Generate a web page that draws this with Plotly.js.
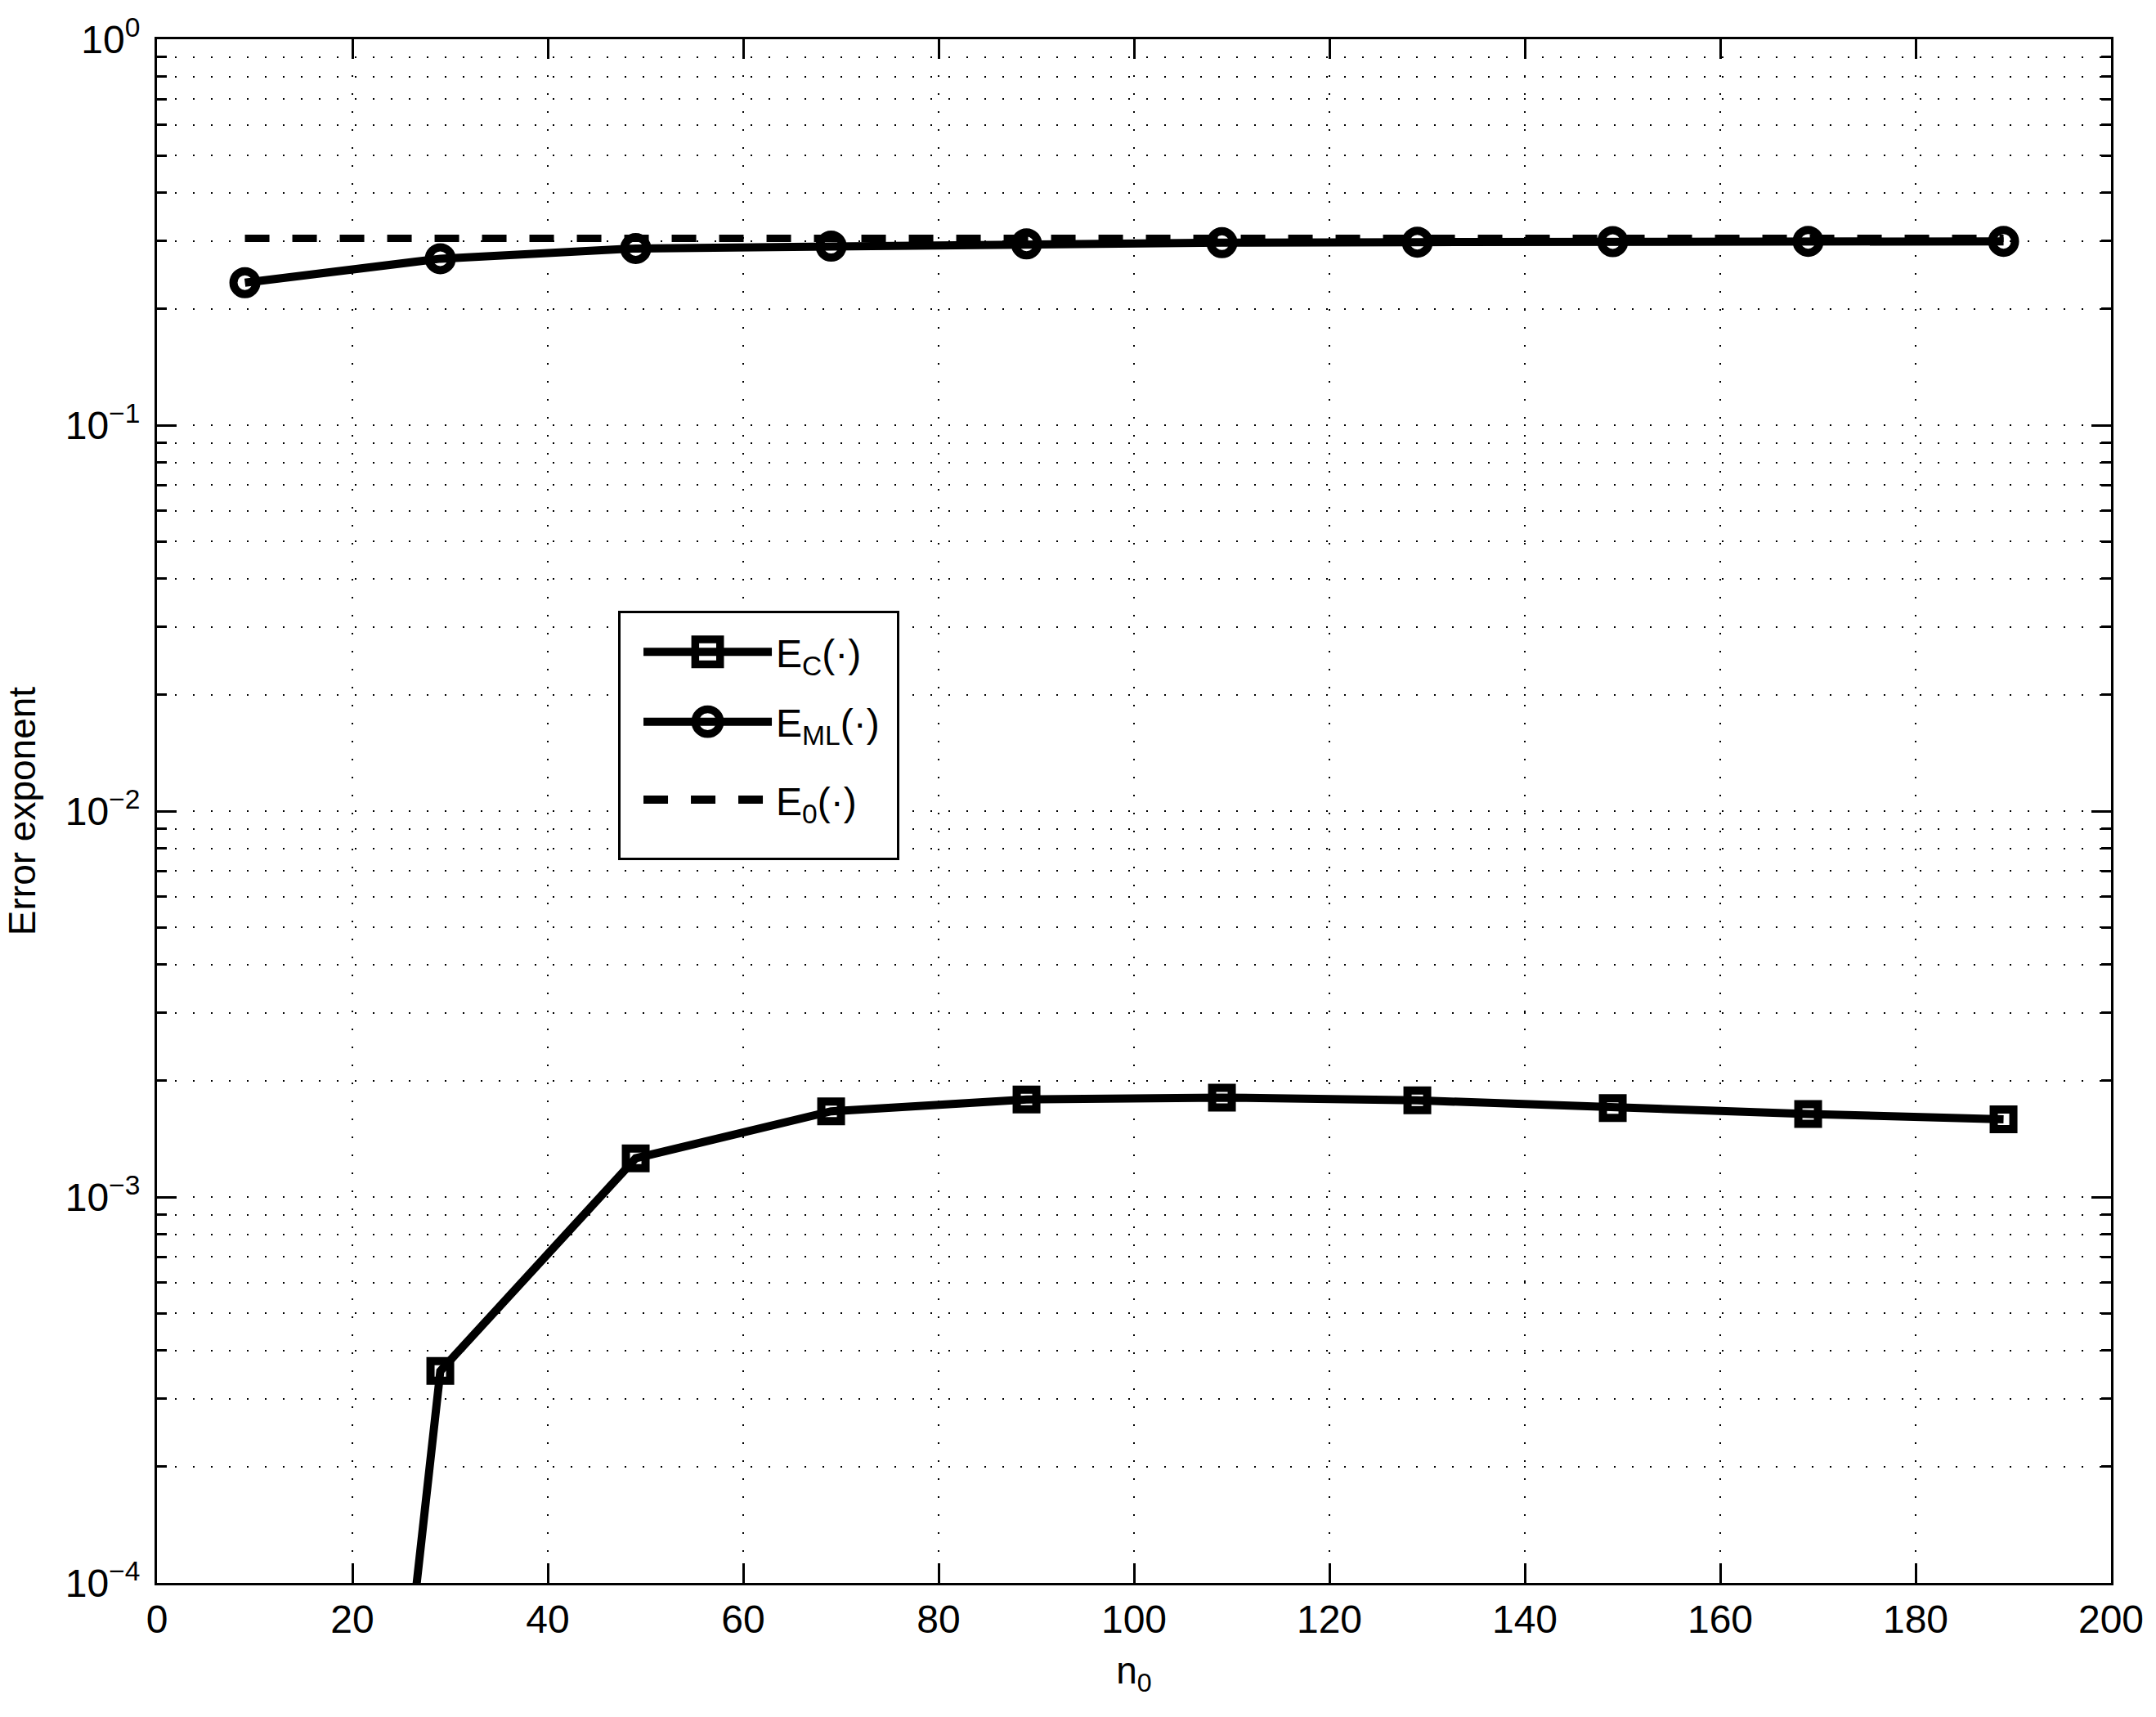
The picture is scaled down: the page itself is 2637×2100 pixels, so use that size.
<!DOCTYPE html>
<html>
<head>
<meta charset="utf-8">
<script src="https://cdn.plot.ly/plotly-3.0.1.min.js"></script>
<style>html, body { margin: 0; padding: 0; background: #fff; }</style>
</head>
<body>
<div id="plot" style="width:2637px;height:2100px"></div>
<script>
'use strict'

// values

const n0 = [9, 29, 49, 69, 89, 109, 129, 149, 169, 189]
const err_c = [1.0e-8, 3.54e-4, 1.26e-3, 1.667e-3, 1.79e-3, 1.81e-3, 1.78e-3, 1.70e-3, 1.64e-3, 1.59e-3]
const err_ml = [0.234, 0.270, 0.287, 0.291, 0.295, 0.297, 0.298, 0.299, 0.2995, 0.2995]
const err_0 = [0.305, 0.305, 0.305, 0.305, 0.305, 0.305, 0.305, 0.305, 0.305, 0.305]

const names = ['E<sub>C</sub>(·)', 'E<sub>ML</sub>(·)', 'E<sub>0</sub>(·)']
const x_ticks = [0, 20, 40, 60, 80, 100, 120, 140, 160, 180, 200]
const y_ticks = [1e-4, 1e-3, 1e-2, 1e-1, 1]
const y_labels = ['10<sup>−4</sup>', '10<sup>−3</sup>', '10<sup>−2</sup>', '10<sup>−1</sup>', '10<sup>0</sup>']

///////////////////////////////////////////////////////

const font = { family: '"Liberation Sans", Arial, Helvetica, sans-serif', color: '#000' }

const trace_c = {
  x: n0, y: err_c,
  name: names[0], legendgroup: 'c',
  mode: 'lines+markers',
  line: { color: '#000', width: 10 },
  marker: { symbol: 'square-open', size: 24, color: '#000', line: { width: 10, color: '#000' } }
}

const trace_ml = {
  x: n0, y: err_ml,
  name: names[1], legendgroup: 'ml',
  mode: 'lines+markers',
  line: { color: '#000', width: 10 },
  marker: { symbol: 'circle-open', size: 28, color: '#000', line: { width: 10, color: '#000' } }
}

const trace_0 = {
  x: n0, y: err_0,
  name: names[2], legendgroup: 'e0',
  mode: 'lines',
  line: { color: '#000', width: 9, dash: '30px,28px' }
}

const grid = { showgrid: true, gridcolor: '#000', gridwidth: 2, griddash: '2px,20px' }

const layout = {
  width: 2637,
  height: 2100,
  margin: { l: 192, r: 55, t: 48, b: 164 },
  paper_bgcolor: '#fff',
  plot_bgcolor: '#fff',
  font: Object.assign({ size: 48 }, font),
  showlegend: true,
  hovermode: false,
  legend: {
    x: 0.236, y: 0.630, xanchor: 'left', yanchor: 'top',
    bordercolor: '#000', borderwidth: 3, bgcolor: '#fff',
    font: Object.assign({ size: 48 }, font),
    itemwidth: 180,
    tracegroupgap: 30,
    traceorder: 'grouped'
  },
  xaxis: Object.assign({
    range: [0, 200],
    tickvals: x_ticks,
    ticks: 'inside', ticklen: 24, tickwidth: 3, tickcolor: '#000',
    showline: true, linecolor: '#000', linewidth: 3, mirror: 'ticks',
    zeroline: false,
    title: { text: 'n<sub>0</sub>', font: Object.assign({ size: 46 }, font), standoff: 22 },
    tickfont: Object.assign({ size: 48 }, font),
    ticklabelstandoff: 0
  }, grid),
  yaxis: Object.assign({
    type: 'log',
    range: [-4, 0],
    tickvals: y_ticks,
    ticktext: y_labels,
    ticks: 'inside', ticklen: 24, tickwidth: 3, tickcolor: '#000',
    showline: true, linecolor: '#000', linewidth: 3, mirror: 'ticks',
    zeroline: false,
    title: { text: 'Error exponent', font: Object.assign({ size: 46 }, font), standoff: 22 },
    tickfont: Object.assign({ size: 48 }, font),
    ticklabelstandoff: 8,
    minor: Object.assign({ dtick: 'D1', ticks: 'inside', ticklen: 12, tickwidth: 3, tickcolor: '#000' }, grid)
  }, grid)
}

Plotly.newPlot('plot', [trace_c, trace_ml, trace_0], layout, { staticPlot: true }).then(gd => {
  // plotly caps legend symbols in size, so widen them to match the plot marks
  const inset = 23
  gd.querySelectorAll('.legend .legendlines path').forEach(p => {
    const bb = p.getBBox()
    p.setAttribute('d', `M${bb.x + inset},${bb.y}h${bb.width - inset}`)
    p.style.strokeWidth = '10px'
  })
  gd.querySelectorAll('.legend .legendpoints path').forEach(p => {
    p.setAttribute('transform', (p.getAttribute('transform') || '') + ` translate(${inset / 2},0) scale(1.9)`)
  })

  // a little more room round the legend items, as in the figure
  const bg = gd.querySelector('.legend rect.bg')
  if (bg) {
    bg.setAttribute('height', +bg.getAttribute('height') + 32)
    bg.setAttribute('width', +bg.getAttribute('width') + 16)
  }
  const groups = gd.querySelector('.legend .groups')
  if (groups) groups.setAttribute('transform', (groups.getAttribute('transform') || '') + ' translate(0,10)')
})
</script>
</body>
</html>
